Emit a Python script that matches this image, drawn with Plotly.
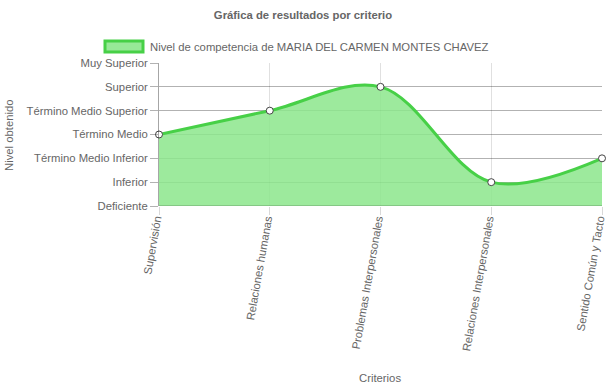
import plotly.graph_objects as go

categorias = ["Supervisión", "Relaciones humanas", "Problemas Interpersonales",
              "Relaciones Interpersonales", "Sentido Común y Tacto"]
niveles = ["Deficiente", "Inferior", "Término Medio Inferior", "Término Medio",
           "Término Medio Superior", "Superior", "Muy Superior"]
valores = [3, 4, 5, 1, 2]
serie = "Nivel de competencia de MARIA DEL CARMEN MONTES CHAVEZ"

font = "Liberation Sans, Arial, sans-serif"
grey = "#666666"
fs = 11.3

W, H = 606, 389
L, R, T, B = 159, 4, 63, 183
PW, PH = W - L - R, H - T - B


def px(xr):  # page x pixel -> paper
    return (xr - L) / PW


def py(yr):  # page y pixel -> paper
    return (H - B - yr) / PH


fig = go.Figure()
fig.add_trace(go.Scatter(
    x=list(range(len(categorias))), y=valores, name=serie,
    mode="lines+markers", fill="tozeroy",
    fillcolor="rgba(140,230,140,0.85)",
    line=dict(color="#47d047", width=3, shape="spline", smoothing=1.0),
    marker=dict(size=7, color="white", line=dict(color="#444444", width=1)),
    cliponaxis=False, showlegend=False, hoverinfo="skip",
))

fig.update_layout(
    width=W, height=H,
    margin=dict(l=L, r=R, t=T, b=B),
    paper_bgcolor="white", plot_bgcolor="white",
    font=dict(family=font, size=fs, color=grey),
    title=dict(text="<b>Gráfica de resultados por criterio</b>", xref="container",
               x=303 / W, xanchor="center",
               y=1 - 15 / H, yanchor="middle", font=dict(size=fs, color=grey)),
    showlegend=False,
)
fig.update_xaxes(
    range=[0, len(categorias) - 1],
    tickmode="array", tickvals=list(range(len(categorias))), ticktext=categorias,
    tickangle=-80, ticks="outside", ticklen=8, tickcolor="rgba(0,0,0,0.15)",
    ticklabeloverflow="allow", ticklabelstandoff=-7, ticklabelshift=-3,
    showgrid=True, gridcolor="rgba(0,0,0,0.12)", gridwidth=1,
    zeroline=False, showline=False,
    automargin=False,
)
fig.update_yaxes(
    range=[0, len(niveles) - 1],
    tickmode="array", tickvals=list(range(len(niveles))), ticktext=niveles,
    ticks="outside", ticklen=8, tickcolor="rgba(0,0,0,0.3)",
    showgrid=True, gridcolor="rgba(0,0,0,0.3)", gridwidth=1,
    zeroline=False, showline=True, linecolor="rgba(0,0,0,0.35)",
    automargin=False,
)
# axis titles
fig.add_annotation(text="Criterios", xref="paper", yref="paper", x=px(380), y=py(378),
                   xanchor="center", yanchor="middle", showarrow=False,
                   font=dict(size=fs, color=grey))
fig.add_annotation(text="Nivel obtenido", xref="paper", yref="paper", x=px(9), y=py(135),
                   xanchor="center", yanchor="middle", showarrow=False, textangle=-90,
                   font=dict(size=fs, color=grey))
# bottom baseline
fig.add_shape(type="line", xref="paper", yref="y", x0=0, x1=1, y0=0, y1=0,
              line=dict(color="rgba(0,0,0,0.15)", width=2), layer="above")
# legend drawn manually
fig.add_shape(type="rect", xref="paper", yref="paper",
              x0=px(105), x1=px(143), y0=py(52), y1=py(41),
              fillcolor="rgba(152,233,152,1)", line=dict(color="#47d047", width=3))
fig.add_annotation(text=serie, xref="paper", yref="paper",
                   x=px(148), y=py(46.5), xanchor="left", yanchor="middle",
                   showarrow=False, font=dict(size=fs, color=grey))
fig.write_html("out.html", config={"displayModeBar": False},
               post_script="document.body.style.margin='0';document.body.style.overflow='hidden';")
